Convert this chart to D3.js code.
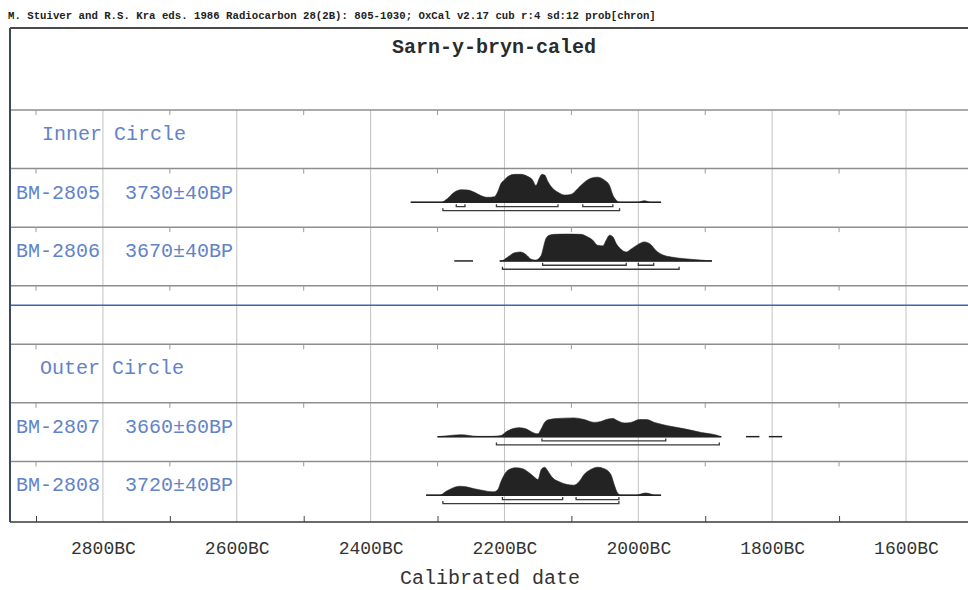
<!DOCTYPE html>
<html>
<head>
<meta charset="utf-8">
<script src="https://cdn.jsdelivr.net/npm/d3@7"></script>
<style>
  html, body { margin: 0; padding: 0; background: #fff; }
  svg { display: block; }
  text { font-family: "Liberation Mono", "DejaVu Sans Mono", monospace; }
</style>
</head>
<body>
<svg id="chart" width="968" height="590"></svg>
<script>
// ---------------- DATA ----------------
const headerText = "M. Stuiver and R.S. Kra eds. 1986 Radiocarbon 28(2B): 805-1030;  OxCal v2.17 cub r:4 sd:12 prob[chron]";
const titleText = "Sarn-y-bryn-caled";
const axisTitle = "Calibrated date";

const rowNames = ["Inner Circle", "BM-2805", "BM-2806", "gap", "Outer Circle", "BM-2807", "BM-2808"];
const groupLabels = ["Inner Circle", "Outer Circle"];
const samples = ["BM-2805", "BM-2806", "BM-2807", "BM-2808"];
const bpLabels = ["3730\u00B140BP", "3670\u00B140BP", "3660\u00B160BP", "3720\u00B140BP"];

const majorTicks = [2800, 2600, 2400, 2200, 2000, 1800, 1600];
const minorTicks = [2900, 2700, 2500, 2300, 2100, 1900, 1700];

// probability distributions [year BC, relative probability]
const dist2805 = [[2340,0],[2295,0],[2285,0.14],[2275,0.36],[2265,0.45],[2255,0.44],[2245,0.36],[2235,0.24],[2225,0.18],[2215,0.2],[2210,0.38],[2205,0.68],[2200,0.8],[2195,0.92],[2185,1.0],[2175,1.0],[2165,0.92],[2158,0.8],[2153,0.6],[2148,0.86],[2144,1.0],[2140,0.98],[2135,0.74],[2128,0.5],[2120,0.36],[2110,0.26],[2100,0.29],[2091,0.48],[2081,0.71],[2071,0.86],[2061,0.9],[2051,0.8],[2043,0.6],[2038,0.26],[2033,0.08],[2028,0],[2002,0],[1991,0.06],[1981,0],[1966,0]];
const dist2806 = [[2207,0],[2205,0],[2195,0.14],[2185,0.29],[2176,0.32],[2168,0.23],[2160,0.06],[2153,0.03],[2145,0.2],[2141,0.56],[2138,0.8],[2133,0.92],[2125,0.95],[2106,0.96],[2086,0.95],[2076,0.86],[2068,0.74],[2061,0.56],[2053,0.54],[2048,0.74],[2043,0.92],[2038,0.86],[2033,0.62],[2026,0.42],[2018,0.32],[2011,0.42],[2001,0.58],[1991,0.68],[1981,0.58],[1974,0.38],[1964,0.22],[1951,0.14],[1931,0.08],[1912,0.04],[1890,0]];
const dist2807 = [[2300,0],[2290,0.02],[2265,0.07],[2240,0.01],[2220,0.01],[2205,0.04],[2197,0.18],[2188,0.28],[2178,0.32],[2168,0.28],[2158,0.15],[2150,0.1],[2145,0.28],[2140,0.51],[2133,0.61],[2120,0.65],[2096,0.67],[2081,0.61],[2066,0.51],[2056,0.54],[2048,0.61],[2038,0.65],[2031,0.57],[2021,0.49],[2011,0.51],[1998,0.61],[1988,0.61],[1976,0.51],[1956,0.39],[1931,0.28],[1906,0.15],[1884,0.06],[1876,0]];
const dist2808 = [[2317,0],[2297,0],[2287,0.14],[2277,0.26],[2267,0.32],[2257,0.3],[2247,0.24],[2232,0.17],[2217,0.12],[2210,0.2],[2205,0.5],[2200,0.74],[2193,0.92],[2183,0.98],[2173,0.95],[2163,0.8],[2155,0.64],[2150,0.56],[2145,0.92],[2140,1.0],[2135,0.86],[2128,0.62],[2118,0.48],[2106,0.38],[2096,0.36],[2088,0.5],[2081,0.74],[2071,0.92],[2061,1.0],[2051,0.95],[2041,0.74],[2036,0.38],[2031,0.08],[2026,0],[2004,0],[1989,0.08],[1974,0],[1966,0]];

// extra isolated baseline segments [from, to] (years BC)
const extra2805 = [];
const extra2806 = [[2275, 2247]];
const extra2807 = [[1839, 1819], [1805, 1785]];
const extra2808 = [];

// 68.2% (1 sigma) and 95.4% (2 sigma) ranges [from, to] (years BC)
const sigma1_2805 = [[2272, 2259], [2212, 2120], [2083, 2038]];
const sigma2_2805 = [[2292, 2028]];
const sigma1_2806 = [[2143, 2018], [2000, 1977]];
const sigma2_2806 = [[2203, 1939]];
const sigma1_2807 = [[2144, 1959]];
const sigma2_2807 = [[2212, 1879]];
const sigma1_2808 = [[2203, 2113], [2093, 2029]];
const sigma2_2808 = [[2292, 2029]];

const dists = [dist2805, dist2806, dist2807, dist2808];
const extras = [extra2805, extra2806, extra2807, extra2808];
const sig1 = [sigma1_2805, sigma1_2806, sigma1_2807, sigma1_2808];
const sig2 = [sigma2_2805, sigma2_2806, sigma2_2807, sigma2_2808];

// ---------------- LAYOUT ----------------
const svg = d3.select("#chart");
const W = 968, H = 590;
const frameLeft = 10, frameTop = 28, gridTop = 110, axisY = 522;

const x = d3.scaleLinear().domain([2900, 1600]).range([36, 906]);
const yRow = d3.scaleBand().domain(rowNames).range([gridTop, 520]).paddingInner(0).paddingOuter(0);
const h = d3.scaleLinear().domain([0, 1]).range([0, 28]);

const labelBlue = "#6283c8";
const ink = "#232323";

// header
svg.append("text").attr("x", 8).attr("y", 19)
  .attr("font-size", 10.7).attr("font-weight", "bold").attr("fill", "#222")
  .text(headerText);

// title
svg.append("text").attr("x", 494).attr("y", 53)
  .attr("text-anchor", "middle").attr("font-size", 20).attr("font-weight", "bold").attr("fill", "#2b2b2b")
  .text(titleText);

// vertical major gridlines
svg.append("g").selectAll("line").data(majorTicks).join("line")
  .attr("x1", d => x(d)).attr("x2", d => x(d))
  .attr("y1", gridTop).attr("y2", axisY)
  .attr("stroke", "#c2c2c2").attr("stroke-width", 1);

// horizontal row lines
const hLines = rowNames.map(r => yRow(r));
svg.append("g").selectAll("line").data(hLines).join("line")
  .attr("x1", frameLeft).attr("x2", W)
  .attr("y1", d => d).attr("y2", d => d)
  .attr("stroke", "#8e8e8e").attr("stroke-width", 1.5);

// small minor ticks below each row line
const tickG = svg.append("g");
hLines.forEach(yy => {
  tickG.selectAll(null).data(minorTicks).join("line")
    .attr("x1", d => x(d)).attr("x2", d => x(d))
    .attr("y1", yy).attr("y2", yy + 5)
    .attr("stroke", "#9a9a9a").attr("stroke-width", 1);
});

// blue separator line in the gap row
svg.append("line")
  .attr("x1", frameLeft).attr("x2", W)
  .attr("y1", yRow("gap") + 19.5).attr("y2", yRow("gap") + 19.5)
  .attr("stroke", "#3f63b5").attr("stroke-width", 1.5);

// frame
svg.append("line").attr("x1", frameLeft).attr("x2", W).attr("y1", frameTop).attr("y2", frameTop)
  .attr("stroke", "#4a4a4a").attr("stroke-width", 2);
svg.append("line").attr("x1", frameLeft).attr("x2", frameLeft).attr("y1", frameTop).attr("y2", axisY)
  .attr("stroke", "#3c4668").attr("stroke-width", 2);

// axis
const axisG = svg.append("g").attr("transform", `translate(0,${axisY})`)
  .call(d3.axisBottom(x).tickValues(majorTicks).tickSize(0).tickPadding(19.5).tickFormat(d => d + "BC"));
axisG.select(".domain").remove();
axisG.selectAll("text").attr("font-size", 18).attr("fill", "#333")
  .attr("font-family", "'Liberation Mono', monospace");
const minorAxis = svg.append("g").attr("transform", `translate(0,${axisY})`)
  .call(d3.axisBottom(x).tickValues(minorTicks).tickSizeInner(-6).tickSizeOuter(0).tickFormat(""));
minorAxis.select(".domain").remove();
minorAxis.selectAll("line").attr("stroke", "#444");
svg.append("line").attr("x1", frameLeft).attr("x2", W).attr("y1", axisY).attr("y2", axisY)
  .attr("stroke", "#3a3a3a").attr("stroke-width", 1.5);

svg.append("text").attr("x", 490).attr("y", 584)
  .attr("text-anchor", "middle").attr("font-size", 20).attr("fill", "#333")
  .text(axisTitle);

// group labels
svg.append("g").selectAll("text").data(groupLabels).join("text")
  .attr("x", (d, i) => i === 0 ? 42 : 40)
  .attr("y", d => yRow(d) + 30)
  .attr("font-size", 20).attr("fill", labelBlue)
  .text(d => d);

// sample labels
svg.append("g").selectAll("text").data(samples).join("text")
  .attr("x", 16).attr("y", d => yRow(d) + 30)
  .attr("font-size", 20).attr("fill", labelBlue).text(d => d);
svg.append("g").selectAll("text").data(samples).join("text")
  .attr("x", 125).attr("y", d => yRow(d) + 30)
  .attr("font-size", 20).attr("fill", labelBlue).text((d, i) => bpLabels[i]);

// distributions
samples.forEach((s, i) => {
  const base = yRow(s) + 33.8;
  const g = svg.append("g");
  const area = d3.area()
    .x(d => x(d[0]))
    .y0(base)
    .y1(d => base - h(d[1]))
    .curve(d3.curveMonotoneX);
  g.append("path").datum(dists[i]).attr("d", area)
    .attr("fill", ink).attr("stroke", ink).attr("stroke-width", 0.6);
  const ext = d3.extent(dists[i], d => d[0]);
  g.append("line").attr("x1", x(ext[1])).attr("x2", x(ext[0]))
    .attr("y1", base).attr("y2", base)
    .attr("stroke", ink).attr("stroke-width", 1.5);
  g.selectAll(".extra").data(extras[i]).join("line").attr("class", "extra")
    .attr("x1", d => x(d[0])).attr("x2", d => x(d[1]))
    .attr("y1", base).attr("y2", base)
    .attr("stroke", ink).attr("stroke-width", 1.5);
  const bracket = (ranges, off) => {
    const yy = base + off;
    ranges.forEach(r => {
      g.append("path")
        .attr("d", `M${x(r[0])},${yy - 2.5}V${yy}H${x(r[1])}V${yy - 2.5}`)
        .attr("fill", "none").attr("stroke", "#3a3a3a").attr("stroke-width", 1.3);
    });
  };
  bracket(sig1[i], 4.3);
  bracket(sig2[i], 8.3);
});
</script>
</body>
</html>
